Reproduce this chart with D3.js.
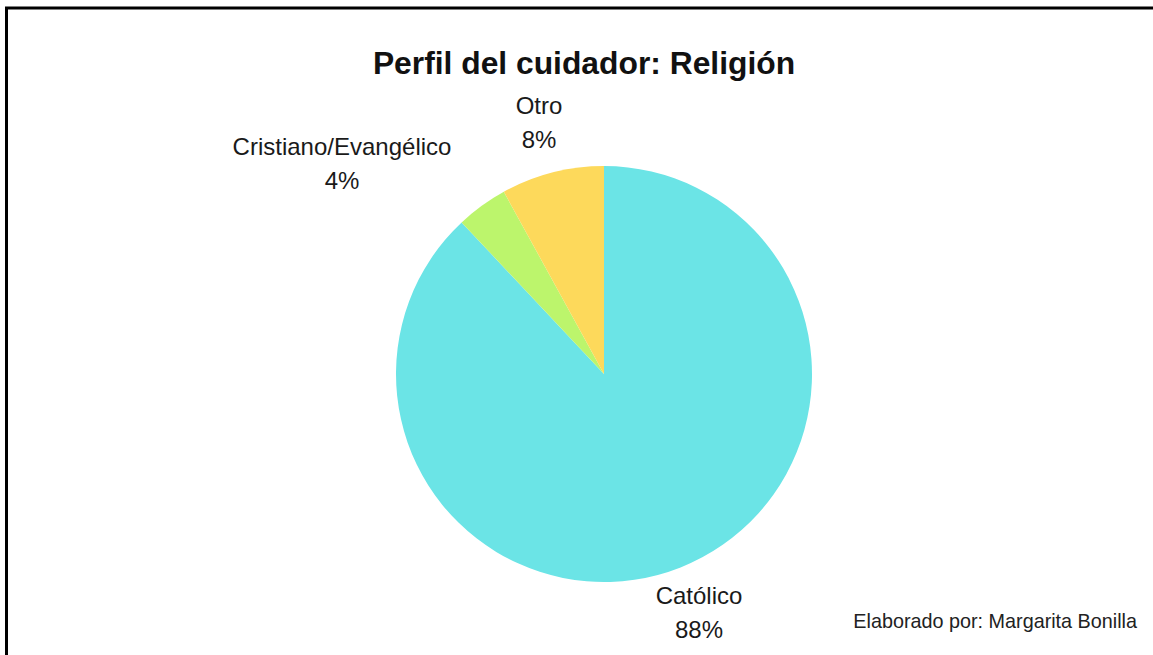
<!DOCTYPE html>
<html>
<head>
<meta charset="utf-8">
<script src="https://cdn.jsdelivr.net/npm/d3@7"></script>
<style>
  html, body { margin: 0; padding: 0; background: #fff; }
  svg { display: block; }
  text { font-family: "Liberation Sans", Arial, sans-serif; }
</style>
</head>
<body>
<script>
// Religion of caregivers, percentage shares
const categories = ["Católico", "Cristiano/Evangélico", "Otro"];
const shares = [88, 4, 8];
const sliceColors = ["#6be4e6", "#bcf56c", "#fdd95b"];

const W = 1153, H = 655;
const cx = 604, cy = 374, R = 208;

const svg = d3.select("body").append("svg")
  .attr("width", W).attr("height", H);

// Frame (top and left edges visible in the crop)
svg.append("rect")
  .attr("x", 6.5).attr("y", 8)
  .attr("width", W + 20).attr("height", H + 20)
  .attr("fill", "#fff")
  .attr("stroke", "#000")
  .attr("stroke-width", 3);

svg.append("text")
  .attr("x", 584).attr("y", 74)
  .attr("text-anchor", "middle")
  .attr("font-size", 31.8)
  .attr("font-weight", "bold")
  .attr("fill", "#111")
  .text("Perfil del cuidador: Religión");

const data = categories.map((c, i) => ({ name: c, value: shares[i], color: sliceColors[i] }));

const pie = d3.pie().sort(null).value(d => d.value);
const arcs = pie(data);
const arc = d3.arc().innerRadius(0).outerRadius(R);

const g = svg.append("g").attr("transform", `translate(${cx},${cy})`);
g.selectAll("path")
  .data(arcs)
  .join("path")
  .attr("d", arc)
  .attr("fill", d => d.data.color);

// Label anchor points (label centre in page coordinates, first baseline)
const labelPos = {
  "Católico": [699, 604],
  "Cristiano/Evangélico": [342, 155],
  "Otro": [539, 114]
};

const labels = svg.selectAll("text.lbl")
  .data(arcs)
  .join("text")
  .attr("class", "lbl")
  .attr("text-anchor", "middle")
  .attr("font-size", 24)
  .attr("fill", "#1a1a1a");

labels.append("tspan")
  .attr("x", d => labelPos[d.data.name][0])
  .attr("y", d => labelPos[d.data.name][1])
  .text(d => d.data.name);
labels.append("tspan")
  .attr("x", d => labelPos[d.data.name][0])
  .attr("dy", 34)
  .text(d => d3.format(".0f")(d.data.value) + "%");

svg.append("text")
  .attr("x", 1137).attr("y", 628)
  .attr("text-anchor", "end")
  .attr("font-size", 19.8)
  .attr("fill", "#222")
  .text("Elaborado por: Margarita Bonilla");
</script>
</body>
</html>
